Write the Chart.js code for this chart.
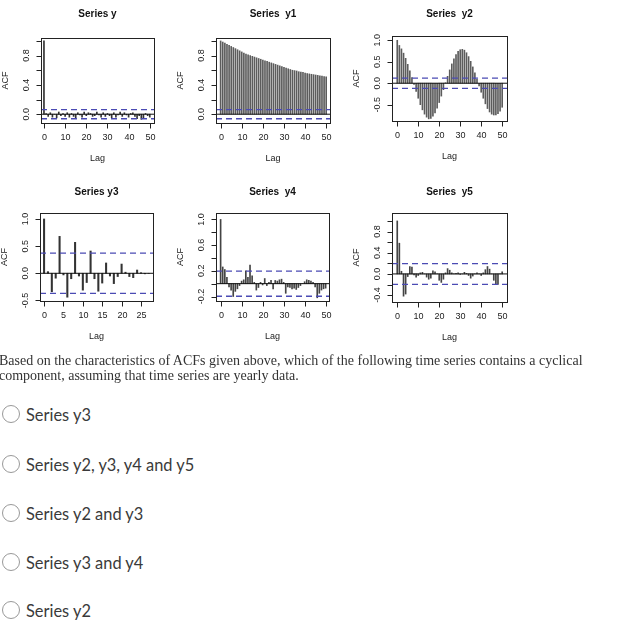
<!DOCTYPE html>
<html>
<head>
<meta charset="utf-8">
<script src="https://cdn.jsdelivr.net/npm/chart.js@4.4.0/dist/chart.umd.min.js"></script>
<style>
  body { margin: 0; background: #fff; width: 624px; height: 639px; overflow: hidden; position: relative; }
  canvas.acf { position: absolute; left: 0; top: 0; }
  .question { position: absolute; left: -1px; top: 353px; width: 630px; font-family: "Liberation Serif", "Times New Roman", serif; font-size: 14px; line-height: 15px; color: #333; white-space: nowrap; }
  .opt { position: absolute; left: 2px; height: 20px; display: flex; align-items: center; font-family: Lato, "Open Sans", sans-serif; font-size: 16.4px; color: #3a3a3a; }
  .opt .circle { width: 18px; height: 18px; border: 1px solid #999; border-radius: 50%; margin-right: 6px; box-sizing: border-box; }
</style>
</head>
<body>
<canvas class="acf" id="accY" width="624" height="360"></canvas>
<canvas class="acf" id="accY1" width="624" height="360"></canvas>
<canvas class="acf" id="accY2" width="624" height="360"></canvas>
<canvas class="acf" id="accY3" width="624" height="360"></canvas>
<canvas class="acf" id="accY4" width="624" height="360"></canvas>
<canvas class="acf" id="accY5" width="624" height="360"></canvas>

<div class="question">Based on the characteristics of ACFs given above, which of the following time series contains a cyclical<br>component, assuming that time series are yearly data.</div>

<div class="opt" style="top:404px"><span class="circle"></span>Series y3</div>
<div class="opt" style="top:454px"><span class="circle"></span>Series y2, y3, y4 and y5</div>
<div class="opt" style="top:503px"><span class="circle"></span>Series y2 and y3</div>
<div class="opt" style="top:552px"><span class="circle"></span>Series y3 and y4</div>
<div class="opt" style="top:600px"><span class="circle"></span>Series y2</div>

<script>
// lags
const lags50 = [0,1,2,3,4,5,6,7,8,9,10,11,12,13,14,15,16,17,18,19,20,21,22,23,24,25,
  26,27,28,29,30,31,32,33,34,35,36,37,38,39,40,41,42,43,44,45,46,47,48,49,50];
const lags27 = [0,1,2,3,4,5,6,7,8,9,10,11,12,13,14,15,16,17,18,19,20,21,22,23,24,25,26,27];

// ACF values
const acfY = [1.00, 0.01, -0.03, 0.02, -0.04, 0.00, -0.05, 0.03, -0.02, 0.01,
  -0.03, 0.02, -0.04, 0.01, -0.03, -0.05, 0.02, -0.01, -0.04, 0.03,
  -0.02, 0.02, 0.01, -0.03, -0.02, 0.03, -0.01, -0.04, 0.02, -0.03,
  0.01, -0.02, -0.05, 0.02, -0.04, -0.01, 0.03, -0.03, 0.02, -0.01,
  -0.04, 0.01, 0.02, -0.03, -0.06, -0.02, -0.07, -0.05, 0.01, -0.02, -0.04];
const acfY1 = [1.00, 0.985, 0.97, 0.955, 0.94, 0.925, 0.91, 0.895, 0.88, 0.865,
  0.85, 0.835, 0.82, 0.81, 0.80, 0.79, 0.78, 0.77, 0.76, 0.75,
  0.74, 0.73, 0.72, 0.71, 0.70, 0.69, 0.68, 0.67, 0.66, 0.65,
  0.64, 0.63, 0.62, 0.61, 0.60, 0.595, 0.59, 0.58, 0.575, 0.57,
  0.56, 0.555, 0.55, 0.545, 0.54, 0.535, 0.53, 0.525, 0.52, 0.515, 0.51];
const acfY2 = [1.00, 0.88, 0.80, 0.70, 0.58, 0.44, 0.29, 0.13, -0.03, -0.19,
  -0.35, -0.50, -0.62, -0.72, -0.79, -0.83, -0.82, -0.77, -0.69, -0.58,
  -0.45, -0.30, -0.15, 0.01, 0.16, 0.31, 0.45, 0.57, 0.67, 0.74,
  0.78, 0.79, 0.77, 0.71, 0.62, 0.51, 0.38, 0.24, 0.09, -0.06,
  -0.21, -0.35, -0.48, -0.59, -0.67, -0.72, -0.74, -0.74, -0.71, -0.65, -0.56];
const acfY3 = [1.00, 0.03, -0.34, -0.09, 0.68, -0.03, -0.44, -0.10, 0.57, -0.05,
  -0.31, -0.17, 0.41, -0.10, -0.33, -0.18, 0.19, -0.05, -0.19, -0.06,
  0.17, 0.02, -0.06, -0.08, 0.06, 0.01, -0.01, 0.00];
const acfY4 = [1.00, 0.26, 0.22, 0.10, -0.05, -0.10, -0.20, -0.12, -0.08, -0.03,
  0.04, 0.06, 0.20, 0.10, 0.29, 0.12, 0.02, -0.10, -0.06, 0.02,
  -0.02, 0.08, -0.03, 0.02, 0.05, -0.08, 0.05, 0.04, 0.06, 0.07,
  0.02, -0.15, -0.05, -0.06, -0.08, -0.07, -0.09, -0.06, -0.03, 0.00,
  0.03, 0.06, 0.05, 0.04, 0.02, -0.05, -0.22, -0.15, -0.10, -0.08, -0.07];
const acfY5 = [1.00, 0.58, 0.05, -0.42, -0.38, -0.05, 0.14, 0.13, -0.02, -0.06,
  -0.03, 0.02, 0.03, 0.00, -0.06, -0.10, -0.08, 0.06, 0.04, 0.00,
  -0.12, -0.16, -0.10, 0.02, 0.10, 0.07, 0.02, 0.00, 0.01, 0.02,
  -0.01, 0.00, 0.03, 0.01, -0.03, -0.08, -0.04, 0.00, 0.02, 0.00,
  -0.03, 0.02, 0.08, 0.14, 0.09, 0.00, -0.12, -0.20, -0.20, 0.00, 0.04];

// confidence bounds (blue dashed)
const ciY = 0.062, ciY1 = 0.062, ciY2 = 0.12, ciY3 = 0.37, ciY4 = 0.196, ciY5 = 0.196;

// tick values
const xTicks50 = [0, 10, 20, 30, 40, 50];
const xTicks27 = [0, 5, 10, 15, 20, 25];
const yTicksPos = [0, 0.2, 0.4, 0.6, 0.8, 1.0];
const yLabelsPos = [0, 0.4, 0.8];
const yTicksHalf = [-0.5, 0, 0.5, 1.0];
const yTicksY4 = [-0.2, 0, 0.2, 0.4, 0.6, 0.8, 1.0];
const yLabelsY4 = [-0.2, 0.2, 0.6, 1.0];
const yTicksY5 = [-0.4, -0.2, 0, 0.2, 0.4, 0.6, 0.8, 1.0];
const yLabelsY5 = [-0.4, 0, 0.4, 0.8];

const titles = ['Series y', 'Series  y1', 'Series  y2', 'Series y3', 'Series  y4', 'Series  y5'];

// plot boxes in page pixels: [left, right, top, bottom]
const panels = [
  { id: 'accY',  title: titles[0], lags: lags50, acf: acfY,  ci: ciY,  box: [41, 154, 38, 123],  x: [-1.4, 52], y: [-0.12, 1.04], xt: xTicks50, yt: yTicksPos, yl: yLabelsPos, bw: 1, col: '#333', titleGap: 24 },
  { id: 'accY1', title: titles[1], lags: lags50, acf: acfY1, ci: ciY1, box: [216, 330, 38, 123], x: [-2.2, 51.8], y: [-0.12, 1.04], xt: xTicks50, yt: yTicksPos, yl: yLabelsPos, bw: 1, col: '#5c5c5c', titleGap: 24 },
  { id: 'accY2', title: titles[2], lags: lags50, acf: acfY2, ci: ciY2, box: [392, 507, 36, 121], x: [-2.5, 52.3], y: [-0.88, 1.1], xt: xTicks50, yt: yTicksHalf, yl: yTicksHalf, bw: 1, col: '#5c5c5c', titleGap: 22 },
  { id: 'accY3', title: titles[3], lags: lags27, acf: acfY3, ci: ciY3, box: [40, 153, 213, 301], x: [-1.05, 28.1], y: [-0.51, 1.11], xt: xTicks27, yt: yTicksHalf, yl: yTicksHalf, bw: 1.4, col: '#333', titleGap: 21 },
  { id: 'accY4', title: titles[4], lags: lags50, acf: acfY4, ci: ciY4, box: [216, 329, 213, 301], x: [-2.2, 51.6], y: [-0.27, 1.1], xt: xTicks50, yt: yTicksY4, yl: yLabelsY4, bw: 1, col: '#444', titleGap: 21 },
  { id: 'accY5', title: titles[5], lags: lags50, acf: acfY5, ci: ciY5, box: [392, 507, 213, 302], x: [-2.5, 52.3], y: [-0.53, 1.15], xt: xTicks50, yt: yTicksY5, yl: yLabelsY5, bw: 1, col: '#444', titleGap: 21 }
];

const FONT = '"Liberation Sans", Arial, sans-serif';

// R-like box, axes and labels drawn with the chart's own scales
function rAxesPlugin(p) {
  return {
    id: 'rAxes',
    afterDraw(chart) {
      const ctx = chart.ctx;
      const a = chart.chartArea;
      const xs = chart.scales.x;
      const ys = chart.scales.y;
      ctx.save();
      ctx.strokeStyle = '#222';
      ctx.fillStyle = '#222';
      ctx.lineWidth = 1;
      ctx.strokeRect(Math.round(a.left) + 0.5, Math.round(a.top) + 0.5,
        Math.round(a.right - a.left), Math.round(a.bottom - a.top));

      ctx.font = '9px ' + FONT;
      ctx.textAlign = 'center';
      ctx.textBaseline = 'middle';

      const bot = Math.round(a.bottom) + 0.5;
      p.xt.forEach(v => {
        const px = Math.round(xs.getPixelForValue(v)) + 0.5;
        ctx.beginPath();
        ctx.moveTo(px, bot);
        ctx.lineTo(px, bot + 5);
        ctx.stroke();
        ctx.fillText(String(v), px, a.bottom + 15);
      });

      const lft = Math.round(a.left) + 0.5;
      p.yt.forEach(v => {
        const py = Math.round(ys.getPixelForValue(v)) + 0.5;
        ctx.beginPath();
        ctx.moveTo(lft, py);
        ctx.lineTo(lft - 5, py);
        ctx.stroke();
      });
      p.yl.forEach(v => {
        const py = ys.getPixelForValue(v);
        ctx.save();
        ctx.translate(a.left - 14, py);
        ctx.rotate(-Math.PI / 2);
        ctx.fillText(v.toFixed(1), 0, 0);
        ctx.restore();
      });

      const cx = (a.left + a.right) / 2;
      const cy = (a.top + a.bottom) / 2;
      ctx.fillText('Lag', cx, a.bottom + 36);
      ctx.save();
      ctx.translate(a.left - 35, cy);
      ctx.rotate(-Math.PI / 2);
      ctx.fillText('ACF', 0, 0);
      ctx.restore();

      ctx.font = 'bold 10px ' + FONT;
      ctx.fillStyle = '#111';
      ctx.fillText(p.title, cx, a.top - p.titleGap);
      ctx.restore();
    }
  };
}

function drawPanel(p) {
  const ctx = document.getElementById(p.id).getContext('2d');
  const W = 624, H = 360;
  const [bl, br, bt, bb] = p.box;
  const flat = (val) => [{ x: p.x[0], y: val }, { x: p.x[1], y: val }];

  new Chart(ctx, {
    type: 'bar',
    data: {
      datasets: [
        {
          type: 'line',
          data: flat(p.ci),
          borderColor: '#4b4bb4',
          borderWidth: 1.3,
          borderDash: [6, 4],
          pointRadius: 0,
          order: 0
        },
        {
          type: 'line',
          data: flat(-p.ci),
          borderColor: '#4b4bb4',
          borderWidth: 1.3,
          borderDash: [6, 4],
          pointRadius: 0,
          order: 0
        },
        {
          type: 'line',
          data: flat(0),
          borderColor: '#111',
          borderWidth: 1,
          pointRadius: 0,
          order: 1
        },
        {
          data: p.lags.map((l, i) => ({ x: l, y: p.acf[i] })),
          backgroundColor: p.col,
          borderWidth: 0,
          barThickness: p.bw,
          order: 2
        }
      ]
    },
    options: {
      responsive: false,
      animation: false,
      layout: {
        padding: { left: bl, right: W - br, top: bt, bottom: H - bb }
      },
      plugins: {
        legend: { display: false },
        tooltip: { enabled: false }
      },
      scales: {
        x: { type: 'linear', min: p.x[0], max: p.x[1], offset: false, display: false },
        y: { type: 'linear', min: p.y[0], max: p.y[1], display: false }
      }
    },
    plugins: [rAxesPlugin(p)]
  });
}

panels.forEach(drawPanel);
</script>
</body>
</html>
